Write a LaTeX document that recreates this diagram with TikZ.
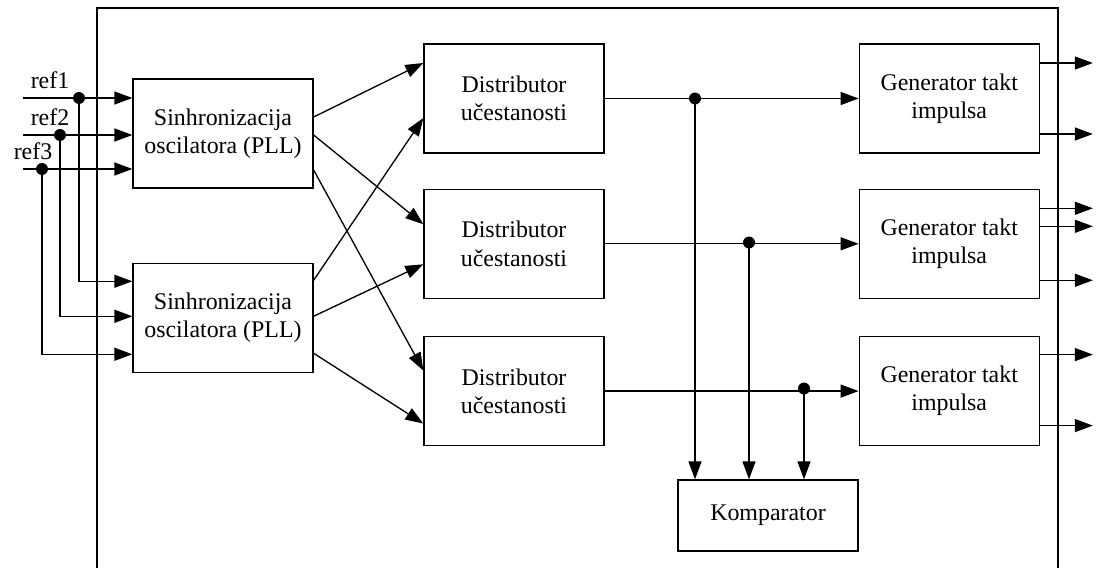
\documentclass[tikz,border=0pt]{standalone}
\usepackage{fontspec}
\setmainfont{Liberation Serif}
\usetikzlibrary{arrows.meta,positioning}

\begin{document}
\begin{tikzpicture}[
    x=0.02cm, y=-0.02cm,
    every node/.style={font=\fontsize{13.6}{16}\selectfont, align=center},
    block/.style={draw, line width=0.75pt, fill=white,
        minimum width=3.6cm, minimum height=2.18cm, inner sep=1pt},
    smallblock/.style={block, minimum height=1.42cm},
    wire/.style={line width=0.75pt},
    arr/.style={wire, -{Triangle[length=3.6mm, width=2.6mm]}},
    dot/.style={circle, fill=black, inner sep=0pt, minimum size=2.4mm}
]
\useasboundingbox (0,0) rectangle (1100,568);

% frame
\draw[wire] (97,568) -- (97,8) -- (1058,8) -- (1058,568);

% blocks
\node[block] (pll1) at (223,133.5) {Sinhronizacija\\oscilatora (PLL)};
\node[block, below=1.48cm of pll1] (pll2) {Sinhronizacija\\oscilatora (PLL)};
\node[block] (dist1) at (514,98.5) {Distributor\\učestanosti};
\node[block, below=0.7cm of dist1] (dist2) {Distributor\\učestanosti};
\node[block, below=0.74cm of dist2] (dist3) {Distributor\\učestanosti};
\node[block, right=5.08cm of dist1] (gen1) {Generator takt\\impulsa};
\node[block, right=5.08cm of dist2] (gen2) {Generator takt\\impulsa};
\node[block, right=5.08cm of dist3] (gen3) {Generator takt\\impulsa};
\node[smallblock] (komp) at (768,515.5) {Komparator};

% reference inputs
\coordinate (ref1) at (23,98);
\coordinate (ref2) at (23,135);
\coordinate (ref3) at (23,169);
\node[above=2pt] at (50,98) {ref1};
\node[above=2pt] at (50,135) {ref2};
\node[above=2pt] at (33,169) {ref3};
\node[dot] (d1) at (79,98) {};
\node[dot] (d2) at (60,135) {};
\node[dot] (d3) at (42,169) {};
\draw[arr] (ref1) -- (pll1.west |- ref1);
\draw[arr] (ref2) -- (pll1.west |- ref2);
\draw[arr] (ref3) -- (pll1.west |- ref3);
\draw[arr] (d1.center) |- ([yshift=0.73cm]pll2.west);
\draw[arr] (d2.center) |- ([yshift=0.03cm]pll2.west);
\draw[arr] (d3.center) |- ([yshift=-0.73cm]pll2.west);

% PLL -> distributors
\draw[arr] ([yshift=0.33cm]pll1.east) -- ([yshift=0.71cm]dist1.west);
\draw[arr] ([yshift=-0.03cm]pll1.east) -- ([yshift=0.39cm]dist2.west);
\draw[arr] ([yshift=-0.73cm]pll1.east) -- ([yshift=0.41cm]dist3.west);
\draw[arr] ([yshift=0.75cm]pll2.east) -- ([yshift=-0.39cm]dist1.west);
\draw[arr] ([yshift=0.03cm]pll2.east) -- ([yshift=-0.41cm]dist2.west);
\draw[arr] ([yshift=-0.71cm]pll2.east) -- ([yshift=-0.65cm]dist3.west);

% distributors -> generators
\draw[arr] (dist1) -- (gen1);
\draw[arr] (dist2) -- (gen2);
\draw[arr] (dist3) -- (gen3);
\node[dot] (t1) at (695,98.5) {};
\node[dot] (t2) at (749,242.5) {};
\node[dot] (t3) at (804,388.5) {};
\draw[arr] (t1.center) -- (t1 |- komp.north);
\draw[arr] (t2.center) -- (t2 |- komp.north);
\draw[arr] (t3.center) -- (t3 |- komp.north);

% generator outputs
\draw[arr] ([yshift=0.71cm]gen1.east) -- ++(1.06cm,0);
\draw[arr] ([yshift=-0.71cm]gen1.east) -- ++(1.06cm,0);
\draw[arr] ([yshift=0.71cm]gen2.east) -- ++(1.06cm,0);
\draw[arr] ([yshift=0.35cm]gen2.east) -- ++(1.06cm,0);
\draw[arr] ([yshift=-0.73cm]gen2.east) -- ++(1.06cm,0);
\draw[arr] ([yshift=0.73cm]gen3.east) -- ++(1.06cm,0);
\draw[arr] ([yshift=-0.69cm]gen3.east) -- ++(1.06cm,0);
\end{tikzpicture}
\end{document}
